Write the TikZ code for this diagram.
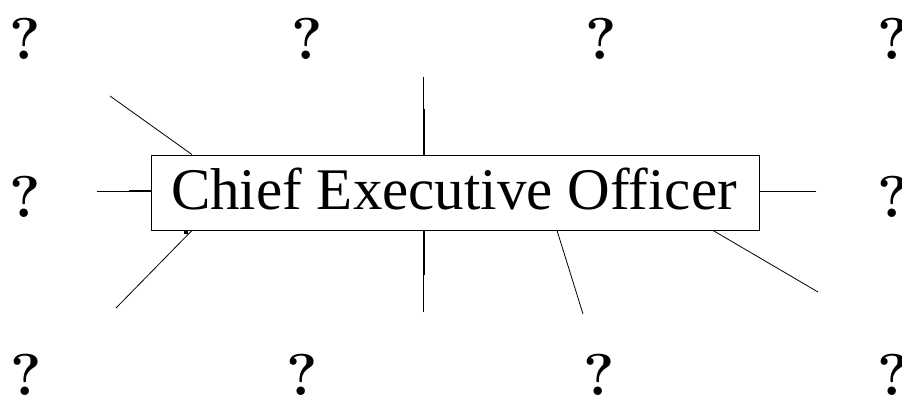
\documentclass[tikz,border=0pt]{standalone}
\usepackage{fontspec}
\newfontfamily\timesfont{Liberation Serif}
\begin{document}
\begin{tikzpicture}[x=1pt,y=-1pt,
  qm/.style={inner sep=0pt,anchor=base,font=\bfseries\fontsize{59}{59}\selectfont},
  ceo/.style={draw,line width=0.9pt,inner sep=0pt,minimum width=608pt,minimum height=75pt},
  link/.style={line width=0.8pt}]
\useasboundingbox (0,0) rectangle (902,398);
% question marks
\node[qm] (q11) at (25,60) {?};
\node[qm] (q12) at (307,60) {?};
\node[qm] (q13) at (601,60) {?};
\node[qm] (q14) at (893,60) {?};
\node[qm] (q21) at (25,218) {?};
\node[qm] (q24) at (893,218) {?};
\node[qm] (q31) at (26,395) {?};
\node[qm] (q32) at (302,395) {?};
\node[qm] (q33) at (599,395) {?};
\node[qm] (q34) at (893,395) {?};
% central box
\node[ceo] (ceo) at (455,192.5) {};
\node[inner sep=0pt,anchor=base,font=\timesfont\fontsize{59}{59}\selectfont] (ceotext) at (454,210) {Chief Executive Officer};
% free ends
\coordinate (a1) at (110,96);
\coordinate (a2) at (97,191);
\coordinate (a3) at (116,308);
\coordinate (a4) at (423,77);
\coordinate (a5) at (423,312);
\coordinate (a6) at (583,314);
\coordinate (a7) at (816,191);
\coordinate (a8) at (818,292);
% connectors
\draw[link] (a1) -- (ceo.north west -| 192,0);
\draw[link] (a2) -- (ceo.west |- 0,191);
\draw[link] (129,190) -- (ceo.west |- 0,190);
\draw[link] (a3) -- (ceo.south west -| 192,0);
\fill (184,230) rectangle (187.5,233.5);
\draw[link] (a4) -- (ceo.north -| 423,0);
\draw[link] (424.5,109) -- (ceo.north -| 424.5,0);
\draw[link] (a5) -- (ceo.south -| 423,0);
\draw[link] (424.5,275) -- (ceo.south -| 424.5,0);
\draw[link] (a6) -- (ceo.south -| 557,0);
\draw[link] (a7) -- (ceo.east |- 0,191);
\draw[link] (a8) -- (ceo.south -| 713,0);
\end{tikzpicture}
\end{document}
